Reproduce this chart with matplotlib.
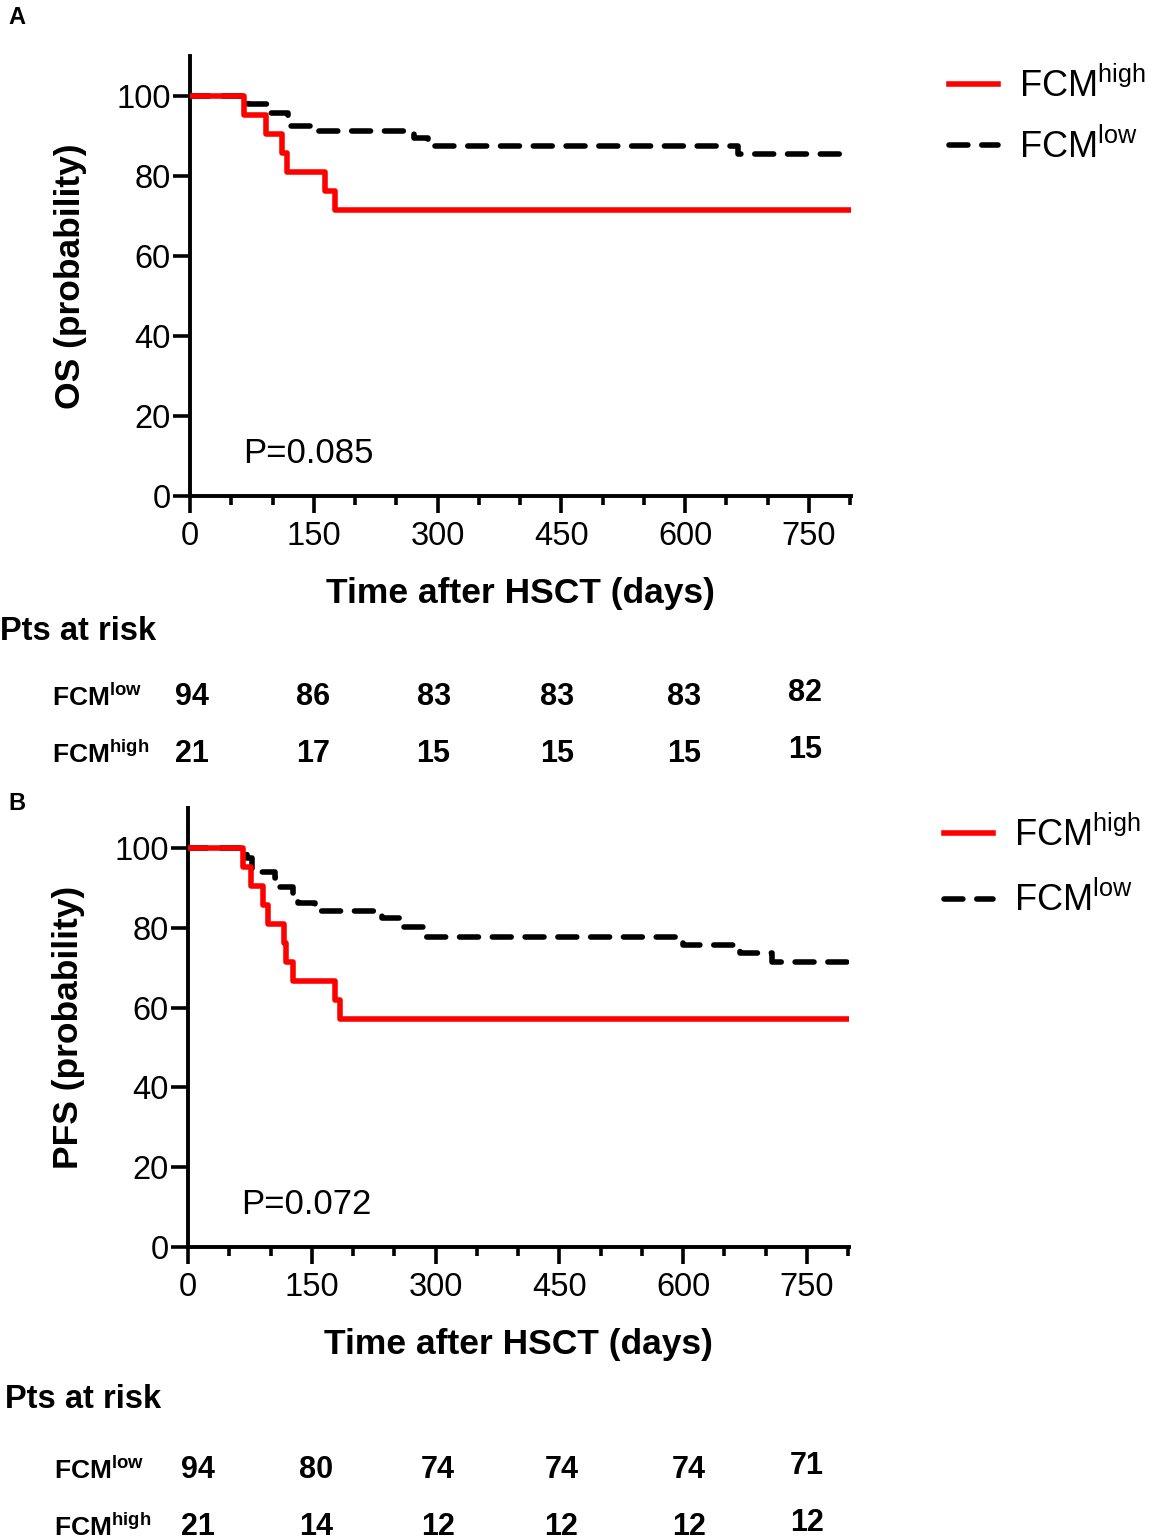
import matplotlib
matplotlib.use("Agg")
import matplotlib.pyplot as plt
from matplotlib.ticker import MultipleLocator

plt.rcParams['font.family'] = ['Liberation Sans', 'DejaVu Sans']
plt.rcParams['mathtext.fontset'] = 'custom'
plt.rcParams['mathtext.rm'] = 'Liberation Sans'
plt.rcParams['mathtext.bf'] = 'Liberation Sans:bold'
plt.rcParams['mathtext.it'] = 'Liberation Sans:italic'

# ---- data ----
os_high_t = [0, 66, 92, 112, 118, 163, 176, 800]
os_high_v = [100, 95.2, 90.5, 85.7, 81.0, 76.2, 71.4, 71.4]
os_low_t = [0, 70, 94, 119, 154, 272, 288, 664, 800]
os_low_v = [100, 97.9, 95.7, 92.6, 91.2, 89.4, 87.6, 85.5, 85.5]

pfs_high_t = [0, 67, 76, 91, 97, 116, 119, 127, 178, 184, 800]
pfs_high_v = [100, 95.2, 90.5, 85.7, 81.0, 76.2, 71.4, 66.7, 61.9, 57.1, 57.1]
pfs_low_t = [0, 71, 78, 105, 111, 127, 133, 154, 235, 259, 287, 600, 669, 708, 800]
pfs_low_v = [100, 97.5, 94.0, 92.5, 90.2, 88.2, 86.2, 84.2, 82.5, 80.2, 77.7, 75.7, 73.7, 71.4, 71.4]

risk_times = [0, 150, 300, 450, 600, 750]
os_risk_low = [94, 86, 83, 83, 83, 82]
os_risk_high = [21, 17, 15, 15, 15, 15]
pfs_risk_low = [94, 80, 74, 74, 74, 71]
pfs_risk_high = [21, 14, 12, 12, 12, 12]

p_os = "P=0.085"
p_pfs = "P=0.072"

W, H = 1154, 1540
fig = plt.figure(figsize=(W / 100, H / 100), dpi=100)

RED = '#ff0000'
lbl_high = r'FCM$^{\mathrm{high}}$'
lbl_low = r'FCM$^{\mathrm{low}}$'


def panel(left_px, top_px, bottom_px, right_px, ht, hv, lt, lv, ylabel, ptxt, leg_xy, lspace):
    ax = fig.add_axes([left_px / W, 1 - bottom_px / H, (right_px - left_px) / W,
                       (bottom_px - top_px) / H])
    ax.step(lt, lv, where='post', color='black', lw=4.0,
            linestyle=(0, (3.4, 2.5)), dash_capstyle='round', label=lbl_low, zorder=3)
    ax.step(ht, hv, where='post', color=RED, lw=4.0, label=lbl_high, zorder=4)
    ax.set_xlim(0, 801)
    ax.set_ylim(0, 110)
    for s in ['top', 'right']:
        ax.spines[s].set_visible(False)
    for s in ['left', 'bottom']:
        ax.spines[s].set_linewidth(2.8)
    ax.xaxis.set_major_locator(MultipleLocator(150))
    ax.xaxis.set_minor_locator(MultipleLocator(50))
    ax.set_yticks([0, 20, 40, 60, 80, 100])
    ax.tick_params(axis='both', which='major', length=12, width=2.6, labelsize=23.5, pad=6)
    ax.tick_params(axis='y', which='major', pad=2)
    ax.tick_params(axis='x', which='minor', length=6.5, width=2.6)
    ax.set_xlabel('Time after HSCT (days)', fontsize=25.5, fontweight='bold', labelpad=18)
    ax.set_ylabel(ylabel, fontsize=25.5, fontweight='bold', labelpad=21)
    ax.text(64, 10.7, ptxt, fontsize=25, va='center', ha='left')
    h, l = ax.get_legend_handles_labels()
    ax.legend([h[1], h[0]], [l[1], l[0]], loc='upper left',
              bbox_to_anchor=(leg_xy[0] / W, 1 - leg_xy[1] / H),
              bbox_transform=fig.transFigure, frameon=False, fontsize=26,
              handlelength=1.35, handletextpad=0.6, labelspacing=lspace,
              borderaxespad=0, borderpad=0.3)
    return ax


def risk_table(ax, y_title, x_title, y_low, y_high, x_lab, low, high, dxs):
    fig.text(x_title / W, 1 - y_title / H, 'Pts at risk', fontsize=23.5,
             fontweight='bold', va='center', ha='left')
    fig.text(x_lab / W, 1 - y_low / H, r'FCM$^{\mathbf{low}}$', fontsize=19,
             fontweight='bold', va='center', ha='left')
    fig.text(x_lab / W, 1 - y_high / H, r'FCM$^{\mathbf{high}}$', fontsize=19,
             fontweight='bold', va='center', ha='left')
    for i, t in enumerate(risk_times):
        xf, _ = fig.transFigure.inverted().transform(ax.transData.transform((t, 0)))
        xf += dxs[i] / W
        yoff = -4 if i == len(risk_times) - 1 else 0
        fig.text(xf, 1 - (y_low + yoff) / H, str(low[i]), fontsize=22,
                 fontweight='bold', va='center', ha='center')
        fig.text(xf, 1 - (y_high + yoff) / H, str(high[i]), fontsize=22,
                 fontweight='bold', va='center', ha='center')


axA = panel(190, 56, 496, 851, os_high_t, os_high_v, os_low_t, os_low_v,
            'OS (probability)', p_os, (938, 57), 0.65)
axB = panel(188, 808, 1247, 849, pfs_high_t, pfs_high_v, pfs_low_t, pfs_low_v,
            'PFS (probability)', p_pfs, (933, 806), 0.78)

risk_table(axA, 632, 0, 697, 754, 52, os_risk_low, os_risk_high, [2, -1, -4, -4, -1, -4])
risk_table(axB, 1400, 5, 1470, 1527, 54, pfs_risk_low, pfs_risk_high, [10, 4, 2, 2, 6, 0])

fig.text(8 / W, 1 - 18 / H, 'A', fontsize=17, fontweight='bold', va='center', ha='left')
fig.text(8 / W, 1 - 803 / H, 'B', fontsize=17, fontweight='bold', va='center', ha='left')

fig.savefig('out.png', dpi=100)
